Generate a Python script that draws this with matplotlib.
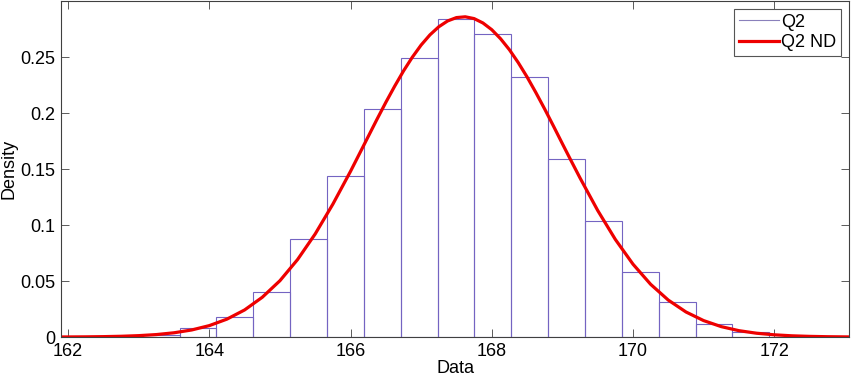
import matplotlib
matplotlib.use("Agg")
import matplotlib.pyplot as plt
from matplotlib.lines import Line2D

plt.rcParams['font.family'] = ['Liberation Sans', 'DejaVu Sans']

# Histogram (bin left edges, common width, densities)
bin_left = [163.056, 163.578, 164.100, 164.622, 165.144, 165.666, 166.188,
            166.710, 167.232, 167.754, 168.276, 168.798, 169.320, 169.842,
            170.364, 170.886, 171.408]
bin_width = 0.522
density = [0.002, 0.008, 0.018, 0.040, 0.088, 0.144, 0.2035, 0.249, 0.2838,
           0.2705, 0.2318, 0.1588, 0.1039, 0.0585, 0.0316, 0.0120, 0.0047]

# Normal-distribution curve
curve_x = [161.9, 162.0, 162.25, 162.5, 162.75, 163.0, 163.25, 163.5, 163.75,
           164.0, 164.25, 164.5, 164.75, 165.0, 165.25, 165.5, 165.75, 166.0,
           166.25, 166.375, 166.5, 166.625, 166.75, 166.875, 167.0, 167.125,
           167.25, 167.375, 167.5, 167.625, 167.75, 167.875, 168.0, 168.125,
           168.25, 168.375, 168.5, 168.625, 168.75, 168.875, 169.0, 169.125,
           169.25, 169.5, 169.75, 170.0, 170.25, 170.5,
           170.75, 171.0, 171.25, 171.5, 171.75, 172.0, 172.25, 172.5, 172.75,
           173.0, 173.1]
curve_y = [0.00007, 0.00009, 0.00018, 0.00036, 0.00068, 0.00125, 0.0022,
           0.0038, 0.0063, 0.0102, 0.0160, 0.0242, 0.0355, 0.0503, 0.0692,
           0.0921, 0.1187, 0.1480,
           0.1790, 0.1945, 0.2096, 0.2240, 0.2376, 0.2499, 0.2608, 0.2699,
           0.2771, 0.2823, 0.2853, 0.2860, 0.2844, 0.2805, 0.2745, 0.2664,
           0.2566, 0.2451, 0.2323, 0.2183, 0.2036, 0.1883, 0.1727, 0.1573,
           0.1421, 0.1131, 0.0872, 0.0651, 0.0471, 0.0330,
           0.0224, 0.0147, 0.0093, 0.0057, 0.0034, 0.0020, 0.0011, 0.0006,
           0.0003, 0.00015, 0.0001]

x_ticks = [162, 164, 166, 168, 170, 172]
y_ticks = [0, 0.05, 0.1, 0.15, 0.2, 0.25]
y_tick_labels = ["0", "0.05", "0.1", "0.15", "0.2", "0.25"]

hist_color = '#7464c2'
curve_color = '#ee0000'

fig = plt.figure(figsize=(8.51, 3.77), dpi=100)
ax = fig.add_axes([0.0717, 0.106, 0.926, 0.891])

ax.bar(bin_left, density, width=bin_width, align='edge', fill=False,
       edgecolor=hist_color, linewidth=0.8)
ax.plot(curve_x, curve_y, color=curve_color, linewidth=2.3,
        solid_joinstyle='round')

ax.set_xlim(161.9, 173.06)
ax.set_ylim(0, 0.30)
ax.set_xticks(x_ticks)
ax.set_yticks(y_ticks)
ax.set_yticklabels(y_tick_labels)
ax.tick_params(direction='in', length=5.5, width=0.6, colors='#404040',
               labelcolor='black', labelsize=13, top=True, right=True, pad=4)
for s in ax.spines.values():
    s.set_color('#404040')
    s.set_linewidth(0.8)

ax.set_xlabel('Data', fontsize=13, labelpad=0)
ax.set_ylabel('Density', fontsize=13, labelpad=2)

handles = [Line2D([], [], color='#8a80bb', linewidth=0.8),
           Line2D([], [], color=curve_color, linewidth=2.3)]
leg = ax.legend(handles, ['Q2', 'Q2 ND'], loc='upper right', fontsize=13,
                frameon=True, fancybox=False, framealpha=1, edgecolor='#555555',
                borderaxespad=0.45, borderpad=0.25, labelspacing=0.2,
                handlelength=2.2, handletextpad=0.15)
leg.get_frame().set_linewidth(0.8)

fig.savefig('out.png', dpi=100)
